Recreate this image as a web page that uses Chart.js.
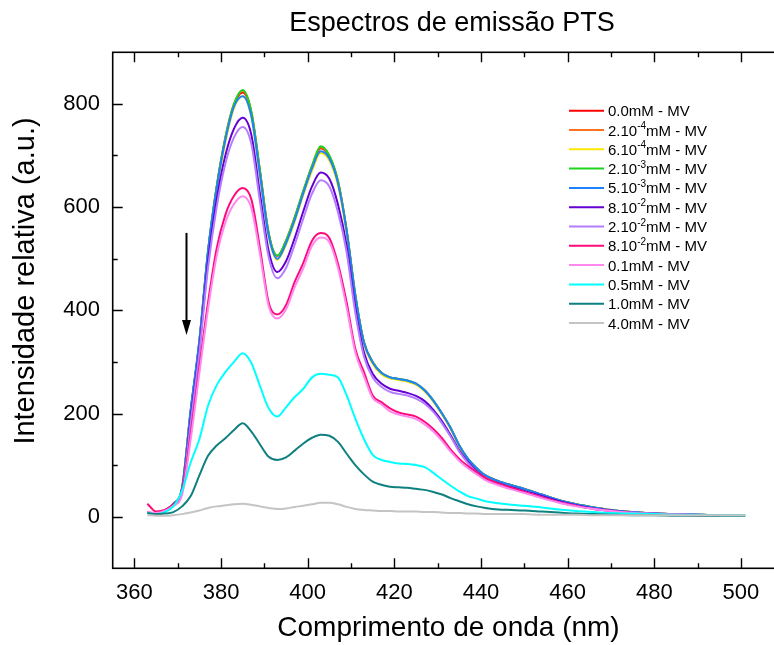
<!DOCTYPE html>
<html>
<head>
<meta charset="utf-8">
<script src="https://cdn.jsdelivr.net/npm/chart.js@4"></script>
<style>
  html, body { margin: 0; padding: 0; overflow: hidden; background: #fff; }
  canvas { display: block; }
</style>
</head>
<body>
<canvas id="chart1" width="800" height="645"></canvas>
<script>
// wavelength grid (nm) shared by every spectrum
const wavelengths = [363,365,367,369,371,373,375,377,379,381,383,385,387,389,391,393,395,397,399,401,403,405,407,409,411,413,415,417,419,421,423,425,427,429,431,433,435,437,439,441,444,447,450,454,458,462,466,470,475,480,485,490,495,501];

const mv0     = [8,6,12,25,55,205,338,512,638,733,798,822,783,668,548,505,534,579,630,678,714,698,648,553,428,337,299,278,269,266,263,257,244,224,199,171,137,111,93,80,69,61,54,43,32,24,18,13,9,6,5,4,3,null];
const mv2e4   = [8,6,12,25,56,206,339,514,640,735,800,825,785,669,549,505,535,580,631,680,716,699,650,555,430,338,300,279,270,267,264,258,245,225,200,172,138,112,94,80,69,61,54,43,32,24,18,13,9,6,5,4,3,null];
const mv6e4   = [8,6,12,24,54,200,333,505,630,725,792,815,775,660,543,498,527,572,623,670,705,690,641,548,424,334,296,276,268,265,262,256,243,223,198,170,136,111,93,79,68,60,53,42,31,24,18,13,9,6,5,4,3,null];
const mv2e3   = [8,6,12,25,55,205,340,515,640,735,800,827,785,670,550,506,535,580,632,680,718,700,650,555,430,338,300,279,270,267,264,258,245,225,200,172,138,112,94,80,69,61,54,43,32,24,18,13,9,6,5,4,3,null];
const mv5e3   = [8,6,12,25,56,207,342,515,637,730,795,815,776,662,545,500,530,575,627,675,708,694,646,553,428,337,299,279,270,267,264,258,245,225,200,172,138,112,94,80,69,61,54,43,32,24,18,13,9,6,5,4,3,null];
const mv8e2a  = [8,6,11,23,50,190,325,495,615,700,752,773,740,625,515,474,495,540,592,640,667,655,605,525,405,318,277,258,248,244,240,234,224,207,185,158,128,106,88,75,65,57,50,40,30,22,16,12,8,6,5,4,3,null];
const mv2e2   = [8,6,11,22,48,182,318,482,600,684,735,755,722,610,503,462,482,527,578,626,652,640,590,512,395,310,270,252,242,238,235,229,219,203,181,155,126,104,86,73,63,55,48,38,28,21,15,11,8,6,5,4,3,null];
const mv8e2b  = [25,10,13,24,48,160,290,415,520,585,622,637,615,520,415,392,410,455,492,535,550,540,490,415,325,280,235,222,210,202,198,194,184,170,152,130,112,98,86,75,64,56,48,38,28,21,15,11,7,5,4,3,3,null];
const mv01    = [10,7,11,21,42,150,278,402,505,570,606,621,598,508,408,384,402,445,482,525,541,532,482,405,318,272,230,218,204,198,194,189,179,165,147,126,108,94,82,71,61,53,46,36,27,20,15,11,7,5,4,3,3,null];
const mv05    = [7,5,9,20,50,105,150,215,255,280,300,317,298,253,210,194,212,232,248,270,277,275,270,235,190,150,120,110,106,103,102,100,96,85,72,60,49,40,35,30,26,23,21,18,14,11,9,7,6,5,4,4,3,3];
const mv10    = [7,5,6,9,20,40,80,118,138,152,168,181,165,140,116,110,115,128,142,153,159,157,145,122,100,82,68,62,58,57,56,54,52,48,43,36,30,24,20,17,14,13,12,10,8,6,5,4,3,3,2,2,2,2];
const mv40    = [3,2,2,3,5,8,12,17,20,22,24,25,23,20,17,15,16,19,21,24,27,27,24,19,15,13,12,11,11,10,10,10,9,9,8,7,7,6,6,5,5,5,5,4,4,4,3,3,3,3,3,3,3,3];

const seriesLabels = ['0.0mM - MV','2.10⁻⁴mM - MV','6.10⁻⁴mM - MV','2.10⁻³mM - MV','5.10⁻³mM - MV','8.10⁻²mM - MV','2.10⁻²mM - MV','8.10⁻²mM - MV','0.1mM - MV','0.5mM - MV','1.0mM - MV','4.0mM - MV'];
const seriesValues = [mv0, mv2e4, mv6e4, mv2e3, mv5e3, mv8e2a, mv2e2, mv8e2b, mv01, mv05, mv10, mv40];
const seriesColors = ['#ff0000','#ff7020','#ffe600','#1ed21e','#1e82ff','#6400d2','#b47cff','#ff0a7a','#ff88f0','#00ffff','#0f8080','#c4c4c4'];

// arrow: quenching direction, at 372 nm from 550 down to 352
const arrowX = 372, arrowFrom = 550, arrowTo = 352;

const FONT = '"Liberation Sans", Arial, sans-serif';
const chartTitle = 'Espectros de emissão PTS';
const yTitle = 'Intensidade relativa (a.u.)';

// box with inward ticks on all four sides, plus title and arrow
const frame = {
  id: 'frame',
  afterDraw(chart) {
    const {ctx, chartArea: a, scales: {x, y}} = chart;
    ctx.save();
    ctx.strokeStyle = '#000';
    ctx.lineWidth = 1.6;
    ctx.strokeRect(a.left, a.top, a.right - a.left, a.bottom - a.top);
    ctx.lineWidth = 1.4;
    ctx.beginPath();
    for (let v = 360; v < 510; v += 10) {
      const px = Math.round(x.getPixelForValue(v)) + 0.5;
      const len = v % 20 === 0 ? 10 : 5;
      ctx.moveTo(px, a.bottom); ctx.lineTo(px, a.bottom - len);
      ctx.moveTo(px, a.top); ctx.lineTo(px, a.top + len);
    }
    for (let v = 0; v < 900; v += 100) {
      const py = Math.round(y.getPixelForValue(v)) + 0.5;
      const len = v % 200 === 0 ? 10 : 5;
      ctx.moveTo(a.left, py); ctx.lineTo(a.left + len, py);
      ctx.moveTo(a.right, py); ctx.lineTo(a.right - len, py);
    }
    ctx.stroke();

    // arrow
    const ax = Math.round(x.getPixelForValue(arrowX)) + 0.5;
    const y0 = y.getPixelForValue(arrowFrom), y1 = y.getPixelForValue(arrowTo);
    ctx.lineWidth = 2;
    ctx.beginPath();
    ctx.moveTo(ax, y0); ctx.lineTo(ax, y1 - 12);
    ctx.stroke();
    ctx.fillStyle = '#000';
    ctx.beginPath();
    ctx.moveTo(ax - 4.5, y1 - 15); ctx.lineTo(ax + 4.5, y1 - 15); ctx.lineTo(ax, y1);
    ctx.closePath();
    ctx.fill();

    // titles
    ctx.textAlign = 'center';
    ctx.textBaseline = 'alphabetic';
    ctx.font = '27px ' + FONT;
    ctx.fillText(chartTitle, 452, 30.5);
    ctx.translate(33.5, 281);
    ctx.rotate(-Math.PI / 2);
    ctx.font = '29px ' + FONT;
    ctx.fillText(yTitle, 0, 0);
    ctx.restore();
  }
};

// legend inside the plot, superscripts drawn raised
const SUP = {'⁻':'-','⁰':'0','¹':'1','²':'2','³':'3','⁴':'4','⁵':'5','⁶':'6','⁷':'7','⁸':'8','⁹':'9'};
const insideLegend = {
  id: 'insideLegend',
  afterDraw(chart) {
    const ctx = chart.ctx;
    const x0 = 569, y0 = 110.7, step = 19.3;
    ctx.save();
    ctx.textBaseline = 'alphabetic';
    chart.data.datasets.forEach((ds, i) => {
      const yy = y0 + i * step;
      ctx.strokeStyle = ds.borderColor;
      ctx.lineWidth = 2;
      ctx.beginPath();
      ctx.moveTo(x0, yy); ctx.lineTo(x0 + 35, yy);
      ctx.stroke();
      // split label into normal and superscript runs
      const runs = [];
      for (const ch of ds.label) {
        const sup = ch in SUP;
        const c = sup ? SUP[ch] : ch;
        if (runs.length && runs[runs.length - 1].sup === sup) runs[runs.length - 1].t += c;
        else runs.push({t: c, sup});
      }
      let tx = x0 + 39;
      ctx.fillStyle = '#000';
      runs.forEach(r => {
        ctx.font = (r.sup ? '10px ' : '15px ') + FONT;
        ctx.fillText(r.t, tx, yy + (r.sup ? -1 : 5.5));
        tx += ctx.measureText(r.t).width;
      });
    });
    ctx.restore();
  }
};

const datasets = seriesValues.map((vals, i) => ({
  label: seriesLabels[i],
  data: wavelengths.map((w, j) => ({x: w, y: vals[j]})),
  borderColor: seriesColors[i],
  borderWidth: 2,
  pointRadius: 0,
  fill: false,
  cubicInterpolationMode: 'monotone',
  spanGaps: false,
  order: -i
}));

new Chart(document.getElementById('chart1').getContext('2d'), {
  type: 'line',
  data: { datasets },
  options: {
    responsive: false,
    animation: false,
    devicePixelRatio: 1,
    // plot box runs past the right edge of the window
    layout: { padding: { left: 0, right: 15.7, top: 52.3, bottom: 0 } },
    plugins: {
      legend: { display: false },
      tooltip: { enabled: false },
      title: { display: false }
    },
    scales: {
      x: {
        type: 'linear',
        min: 355, max: 510,
        grid: { display: false, drawTicks: false },
        border: { display: false },
        ticks: {
          stepSize: 10, autoSkip: false, maxRotation: 0, padding: 11, includeBounds: false,
          color: '#000', font: { family: FONT, size: 22 },
          callback: v => v % 20 === 0 ? String(v) : ''
        },
        title: {
          display: true, text: 'Comprimento de onda (nm)', color: '#000',
          font: { family: FONT, size: 28, lineHeight: 1.2 },
          padding: { top: 0, bottom: 0.3 }
        },
        afterFit: s => { s.height = 76.7; s.paddingLeft = 0; s.paddingRight = 0; }
      },
      y: {
        min: -100, max: 900,
        grid: { display: false, drawTicks: false },
        border: { display: false },
        ticks: {
          stepSize: 100, padding: 12.7, autoSkip: false, includeBounds: false,
          color: '#000', font: { family: FONT, size: 22 },
          callback: v => v % 200 === 0 ? String(v) : ''
        },
        afterFit: s => { s.width = 112.7; s.paddingTop = 0; s.paddingBottom = 0; }
      }
    }
  },
  plugins: [frame, insideLegend]
});
</script>
</body>
</html>
